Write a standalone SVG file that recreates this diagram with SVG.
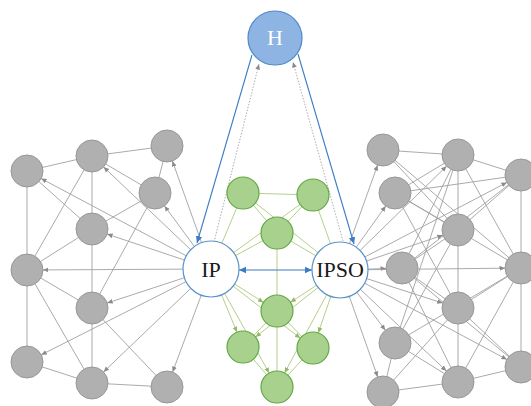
<svg xmlns="http://www.w3.org/2000/svg" width="531" height="406" viewBox="0 0 531 406">
<style>
.e{stroke:#a0a0a0;stroke-width:0.9;fill:none}
.a{stroke:#a0a0a0;stroke-width:0.9;fill:none;marker-end:url(#a16)}
.g{stroke:#b5cf8a;stroke-width:1;fill:none}
.ga{stroke:#b5cf8a;stroke-width:1;fill:none;marker-end:url(#ag16)}
.gray{fill:#b0b0b0;stroke:#979797;stroke-width:1}
.green{fill:#a9d18e;stroke:#63a844;stroke-width:1.2}
.hub{fill:#ffffff;stroke:#5a93c8;stroke-width:1.2}
.t{font-family:"Liberation Serif","Times New Roman",serif;font-size:22px;text-anchor:middle}
</style>
<defs>
<marker id="a16" markerUnits="userSpaceOnUse" markerWidth="30" markerHeight="8" refX="21.5" refY="4" orient="auto"><path d="M0,1.6 L5.5,4 L0,6.4 z" fill="#8a8a8a"/></marker>
<marker id="ag16" markerUnits="userSpaceOnUse" markerWidth="30" markerHeight="8" refX="21.5" refY="4" orient="auto"><path d="M0,1.6 L5.5,4 L0,6.4 z" fill="#93b965"/></marker>
<marker id="ah" markerUnits="userSpaceOnUse" markerWidth="8" markerHeight="8" refX="5.5" refY="4" orient="auto"><path d="M0,1.6 L5.5,4 L0,6.4 z" fill="#8a8a8a"/></marker>
<marker id="ab" markerUnits="userSpaceOnUse" markerWidth="9" markerHeight="9" refX="7" refY="4.5" orient="auto-start-reverse"><path d="M0,1.3 L7,4.5 L0,7.7 z" fill="#3b7cc4"/></marker>
</defs>
<g id="connectors">
<line class="e" x1="27" y1="171" x2="92" y2="156"/>
<line class="e" x1="92" y1="156" x2="167" y2="146"/>
<line class="e" x1="167" y1="146" x2="155" y2="193"/>
<line class="e" x1="27" y1="171" x2="27" y2="270"/>
<line class="e" x1="27" y1="270" x2="27" y2="362"/>
<line class="e" x1="92" y1="156" x2="92" y2="383"/>
<line class="e" x1="27" y1="171" x2="92" y2="229"/>
<line class="e" x1="92" y1="156" x2="27" y2="270"/>
<line class="e" x1="92" y1="156" x2="155" y2="193"/>
<line class="e" x1="155" y1="193" x2="92" y2="229"/>
<line class="e" x1="155" y1="193" x2="92" y2="308"/>
<line class="e" x1="92" y1="229" x2="27" y2="270"/>
<line class="e" x1="27" y1="270" x2="92" y2="308"/>
<line class="e" x1="27" y1="270" x2="92" y2="383"/>
<line class="e" x1="92" y1="308" x2="167" y2="387"/>
<line class="e" x1="27" y1="362" x2="92" y2="383"/>
<line class="e" x1="92" y1="383" x2="167" y2="387"/>
<line class="a" x1="211" y1="269" x2="27" y2="171"/>
<line class="a" x1="211" y1="269" x2="92" y2="156"/>
<line class="a" x1="211" y1="269" x2="167" y2="146"/>
<line class="a" x1="211" y1="269" x2="155" y2="193"/>
<line class="a" x1="211" y1="269" x2="92" y2="229"/>
<line class="a" x1="211" y1="269" x2="27" y2="270"/>
<line class="a" x1="211" y1="269" x2="92" y2="308"/>
<line class="a" x1="211" y1="269" x2="27" y2="362"/>
<line class="a" x1="211" y1="269" x2="92" y2="383"/>
<line class="a" x1="211" y1="269" x2="167" y2="387"/>
<line class="e" x1="383" y1="150" x2="458" y2="155"/>
<line class="e" x1="458" y1="155" x2="521" y2="175"/>
<line class="e" x1="521" y1="175" x2="521" y2="367"/>
<line class="e" x1="458" y1="155" x2="458" y2="382"/>
<line class="e" x1="383" y1="392" x2="458" y2="382"/>
<line class="e" x1="458" y1="382" x2="521" y2="367"/>
<line class="e" x1="383" y1="392" x2="395" y2="343"/>
<line class="e" x1="383" y1="150" x2="458" y2="230"/>
<line class="e" x1="383" y1="150" x2="521" y2="268"/>
<line class="e" x1="458" y1="155" x2="395" y2="193"/>
<line class="e" x1="458" y1="155" x2="402" y2="268"/>
<line class="e" x1="458" y1="155" x2="395" y2="343"/>
<line class="e" x1="458" y1="155" x2="521" y2="268"/>
<line class="e" x1="521" y1="175" x2="395" y2="193"/>
<line class="e" x1="521" y1="175" x2="458" y2="230"/>
<line class="e" x1="521" y1="175" x2="402" y2="268"/>
<line class="e" x1="395" y1="193" x2="458" y2="230"/>
<line class="e" x1="395" y1="193" x2="458" y2="308"/>
<line class="e" x1="395" y1="193" x2="521" y2="268"/>
<line class="e" x1="402" y1="268" x2="458" y2="230"/>
<line class="e" x1="402" y1="268" x2="458" y2="308"/>
<line class="e" x1="402" y1="268" x2="458" y2="382"/>
<line class="e" x1="402" y1="268" x2="521" y2="367"/>
<line class="e" x1="395" y1="343" x2="458" y2="230"/>
<line class="e" x1="395" y1="343" x2="458" y2="382"/>
<line class="e" x1="395" y1="343" x2="521" y2="268"/>
<line class="e" x1="383" y1="392" x2="458" y2="308"/>
<line class="e" x1="458" y1="308" x2="521" y2="367"/>
<line class="e" x1="458" y1="308" x2="521" y2="268"/>
<line class="e" x1="458" y1="382" x2="521" y2="268"/>
<line class="a" x1="340" y1="270" x2="383" y2="150"/>
<line class="a" x1="340" y1="270" x2="458" y2="155"/>
<line class="a" x1="340" y1="270" x2="521" y2="175"/>
<line class="a" x1="340" y1="270" x2="395" y2="193"/>
<line class="a" x1="340" y1="270" x2="458" y2="230"/>
<line class="a" x1="340" y1="270" x2="402" y2="268"/>
<line class="a" x1="340" y1="270" x2="521" y2="268"/>
<line class="a" x1="340" y1="270" x2="458" y2="308"/>
<line class="a" x1="340" y1="270" x2="395" y2="343"/>
<line class="a" x1="340" y1="270" x2="521" y2="367"/>
<line class="a" x1="340" y1="270" x2="383" y2="392"/>
<line class="a" x1="340" y1="270" x2="458" y2="382"/>
<line class="g" x1="243" y1="193" x2="313" y2="195"/>
<line class="g" x1="243" y1="193" x2="277" y2="233"/>
<line class="g" x1="313" y1="195" x2="277" y2="233"/>
<line class="g" x1="277" y1="233" x2="277" y2="311"/>
<line class="g" x1="277" y1="311" x2="243" y2="347"/>
<line class="g" x1="277" y1="311" x2="313" y2="348"/>
<line class="g" x1="277" y1="311" x2="277" y2="387"/>
<line class="g" x1="243" y1="347" x2="277" y2="387"/>
<line class="g" x1="313" y1="348" x2="277" y2="387"/>
<line class="g" x1="211" y1="269" x2="243" y2="193"/>
<line class="g" x1="211" y1="269" x2="313" y2="195"/>
<line class="g" x1="211" y1="269" x2="277" y2="233"/>
<line class="g" x1="340" y1="270" x2="243" y2="193"/>
<line class="g" x1="340" y1="270" x2="313" y2="195"/>
<line class="g" x1="340" y1="270" x2="277" y2="233"/>
<line class="ga" x1="211" y1="269" x2="277" y2="311"/>
<line class="ga" x1="211" y1="269" x2="243" y2="347"/>
<line class="ga" x1="211" y1="269" x2="313" y2="348"/>
<line class="ga" x1="211" y1="269" x2="277" y2="387"/>
<line class="ga" x1="340" y1="270" x2="277" y2="311"/>
<line class="ga" x1="340" y1="270" x2="243" y2="347"/>
<line class="ga" x1="340" y1="270" x2="313" y2="348"/>
<line class="ga" x1="340" y1="270" x2="277" y2="387"/>
<line x1="252" y1="55" x2="197" y2="243" stroke="#3b7cc4" stroke-width="1.1" marker-end="url(#ab)"/>
<line x1="298" y1="54" x2="354" y2="244" stroke="#3b7cc4" stroke-width="1.1" marker-end="url(#ab)"/>
<line x1="214" y1="242" x2="259" y2="64" stroke="#999999" stroke-width="0.8" stroke-dasharray="1.5,1.5" marker-end="url(#ah)"/>
<line x1="343" y1="241" x2="293" y2="62" stroke="#999999" stroke-width="0.8" stroke-dasharray="1.5,1.5" marker-end="url(#ah)"/>
<line x1="239" y1="270" x2="312" y2="270" stroke="#3b7cc4" stroke-width="1.2" marker-start="url(#ab)" marker-end="url(#ab)"/>
</g>
<g id="left-nodes">
<circle id="L1" class="gray" cx="27" cy="171" r="16"/>
<circle id="L2" class="gray" cx="92" cy="156" r="16"/>
<circle id="L3" class="gray" cx="167" cy="146" r="16"/>
<circle id="L4" class="gray" cx="155" cy="193" r="16"/>
<circle id="L5" class="gray" cx="92" cy="229" r="16"/>
<circle id="L6" class="gray" cx="27" cy="270" r="16"/>
<circle id="L7" class="gray" cx="92" cy="308" r="16"/>
<circle id="L8" class="gray" cx="27" cy="362" r="16"/>
<circle id="L9" class="gray" cx="92" cy="383" r="16"/>
<circle id="L10" class="gray" cx="167" cy="387" r="16"/>
</g>
<g id="right-nodes">
<circle id="R1" class="gray" cx="383" cy="150" r="16"/>
<circle id="R2" class="gray" cx="458" cy="155" r="16"/>
<circle id="R3" class="gray" cx="521" cy="175" r="16"/>
<circle id="R4" class="gray" cx="395" cy="193" r="16"/>
<circle id="R5" class="gray" cx="458" cy="230" r="16"/>
<circle id="R6" class="gray" cx="402" cy="268" r="16"/>
<circle id="R7" class="gray" cx="521" cy="268" r="16"/>
<circle id="R8" class="gray" cx="458" cy="308" r="16"/>
<circle id="R9" class="gray" cx="395" cy="343" r="16"/>
<circle id="R10" class="gray" cx="521" cy="367" r="16"/>
<circle id="R11" class="gray" cx="383" cy="392" r="16"/>
<circle id="R12" class="gray" cx="458" cy="382" r="16"/>
</g>
<g id="green-nodes">
<circle id="G1" class="green" cx="243" cy="193" r="16"/>
<circle id="G2" class="green" cx="313" cy="195" r="16"/>
<circle id="G3" class="green" cx="277" cy="233" r="16"/>
<circle id="G4" class="green" cx="277" cy="311" r="16"/>
<circle id="G5" class="green" cx="243" cy="347" r="16"/>
<circle id="G6" class="green" cx="313" cy="348" r="16"/>
<circle id="G7" class="green" cx="277" cy="387" r="16"/>
</g>
<g id="node-H">
<circle cx="275" cy="38" r="27" fill="#8db4e2" stroke="#4f89c6" stroke-width="1.2"/>
<text class="t" x="275" y="45" fill="#ffffff">H</text>
</g>
<g id="node-IP">
<circle class="hub" cx="211" cy="269" r="28"/>
<text class="t" x="211" y="277" fill="#1a1a1a">IP</text>
</g>
<g id="node-IPSO">
<circle class="hub" cx="340" cy="270" r="28"/>
<text class="t" x="340" y="277" fill="#1a1a1a">IPSO</text>
</g>
</svg>
